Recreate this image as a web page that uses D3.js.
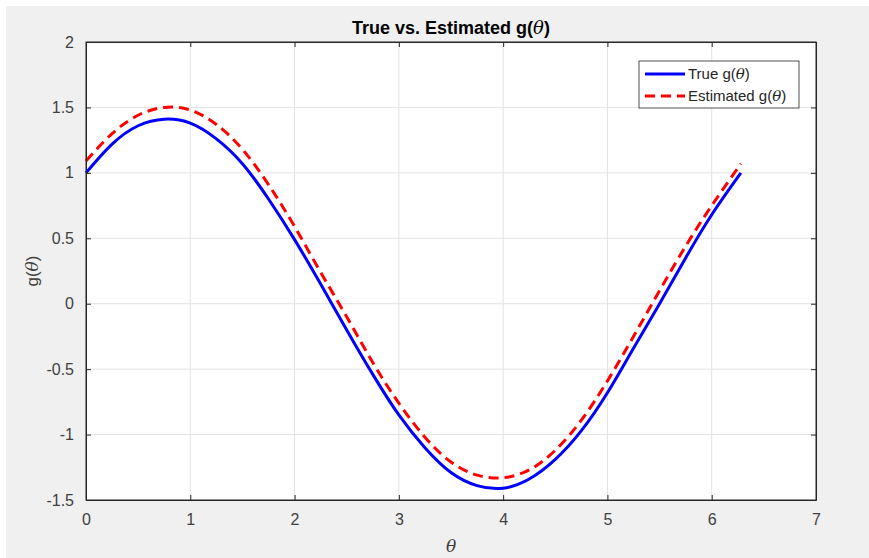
<!DOCTYPE html>
<html>
<head>
<meta charset="utf-8">
<script src="https://cdn.jsdelivr.net/npm/d3@7"></script>
<style>
  body { margin: 0; background: #fff; }
  svg { display: block; font-family: "Liberation Sans", Arial, Helvetica, sans-serif; }
</style>
</head>
<body>
<svg id="chart"></svg>
<script>
// values
const thetas = [0, 0.25, 0.5, 0.75, 1.0, 1.25, 1.5, 1.75, 2.0, 2.25, 2.5, 2.75, 3.0,
  3.25, 3.5, 3.75, 4.0, 4.25, 4.5, 4.75, 5.0, 5.25, 5.5, 5.75, 6.0, 6.28];
const trueG = [1.00, 1.22, 1.36, 1.41, 1.38, 1.26, 1.07, 0.80, 0.49, 0.15, -0.20, -0.54, -0.85,
  -1.10, -1.29, -1.39, -1.41, -1.34, -1.19, -0.97, -0.68, -0.34, 0.00, 0.35, 0.68, 1.00];
const estG = [1.09, 1.30, 1.44, 1.50, 1.48, 1.37, 1.18, 0.91, 0.59, 0.24, -0.10, -0.45, -0.76,
  -1.02, -1.21, -1.31, -1.33, -1.27, -1.12, -0.89, -0.59, -0.25, 0.10, 0.44, 0.75, 1.07];
const xTicks = [0, 1, 2, 3, 4, 5, 6, 7];
const yTicks = [-1.5, -1, -0.5, 0, 0.5, 1, 1.5, 2];

const WIDTH = 869;
const HEIGHT = 558;
const MARGIN = {top: 42, right: 53, bottom: 58, left: 86};
const AXIS = '#262626';
const LABEL = '#404040';

const width = WIDTH - MARGIN.left - MARGIN.right;
const height = HEIGHT - MARGIN.top - MARGIN.bottom;

const svg = d3.select('#chart')
  .attr('width', WIDTH)
  .attr('height', HEIGHT);

svg.append('rect')
  .attr('x', 6).attr('y', 6)
  .attr('width', WIDTH - 6).attr('height', HEIGHT - 6)
  .attr('fill', '#f0f0f0');

const x = d3.scaleLinear().domain([0, 7]).range([0, width]);
const y = d3.scaleLinear().domain([-1.5, 2]).range([height, 0]);

const chart = svg.append('g')
  .attr('transform', `translate(${MARGIN.left},${MARGIN.top})`);

chart.append('rect')
  .attr('width', width).attr('height', height)
  .attr('fill', '#fff');

// grid
chart.append('g')
  .selectAll('line')
  .data(xTicks.slice(1, -1))
  .join('line')
  .attr('x1', (d) => x(d)).attr('x2', (d) => x(d))
  .attr('y1', 0).attr('y2', height)
  .attr('stroke', '#e3e3e3');

chart.append('g')
  .selectAll('line')
  .data(yTicks.slice(1, -1))
  .join('line')
  .attr('x1', 0).attr('x2', width)
  .attr('y1', (d) => y(d)).attr('y2', (d) => y(d))
  .attr('stroke', '#e3e3e3');

// lines
const trueData = thetas.map((t, i) => [t, trueG[i]]);
const estData = thetas.map((t, i) => [t, estG[i]]);

const line = d3.line()
  .x((d) => x(d[0]))
  .y((d) => y(d[1]))
  .curve(d3.curveNatural);

chart.append('path')
  .datum(trueData)
  .attr('d', line)
  .attr('fill', 'none')
  .attr('stroke', '#0000ff')
  .attr('stroke-width', 3);

chart.append('path')
  .datum(estData)
  .attr('d', line)
  .attr('fill', 'none')
  .attr('stroke', '#ff0000')
  .attr('stroke-width', 3)
  .attr('stroke-dasharray', '10,6');

// axes (ticks inward, box on)
const fmt = (d) => String(d);
const xAxis = d3.axisBottom(x).tickValues(xTicks).tickSizeInner(-5).tickSizeOuter(0)
  .tickPadding(14).tickFormat(fmt);
const yAxis = d3.axisLeft(y).tickValues(yTicks).tickSizeInner(-5).tickSizeOuter(0)
  .tickPadding(12).tickFormat(fmt);

chart.append('g')
  .attr('transform', `translate(0,${height})`)
  .call(xAxis);
chart.append('g').call(yAxis);

chart.append('g')
  .call(d3.axisTop(x).tickValues(xTicks).tickSizeInner(-5).tickSizeOuter(0).tickFormat(''));
chart.append('g')
  .attr('transform', `translate(${width},0)`)
  .call(d3.axisRight(y).tickValues(yTicks).tickSizeInner(-5).tickSizeOuter(0).tickFormat(''));

chart.selectAll('.domain').attr('stroke', AXIS);
chart.selectAll('.tick line').attr('stroke', AXIS);
chart.selectAll('.tick text')
  .attr('fill', LABEL)
  .style('font-size', '16px')
  .style('font-family', '"Liberation Sans", Arial, sans-serif');

chart.append('rect')
  .attr('width', width).attr('height', height)
  .attr('fill', 'none')
  .attr('stroke', AXIS);

// title and labels
svg.append('text')
  .attr('x', MARGIN.left + width / 2)
  .attr('y', 34)
  .attr('text-anchor', 'middle')
  .style('font-size', '18px')
  .style('font-weight', 'bold')
  .attr('fill', '#000')
  .html('True vs. Estimated g(<tspan font-style="italic" font-family="DejaVu Serif" font-weight="normal">θ</tspan>)');

svg.append('text')
  .attr('x', MARGIN.left + width / 2)
  .attr('y', 552)
  .attr('text-anchor', 'middle')
  .style('font-size', '17px')
  .style('font-style', 'italic')
  .style('font-family', '"DejaVu Serif", serif')
  .attr('fill', LABEL)
  .text('θ');

svg.append('text')
  .attr('transform', `translate(38,${MARGIN.top + y(0.25)}) rotate(-90)`)
  .attr('text-anchor', 'middle')
  .style('font-size', '17px')
  .attr('fill', LABEL)
  .html('g(<tspan font-style="italic" font-family="DejaVu Serif">θ</tspan>)');

// legend
const legend = svg.append('g').attr('transform', 'translate(639,61)');
legend.append('rect')
  .attr('width', 160).attr('height', 47)
  .attr('fill', '#fff')
  .attr('stroke', AXIS)
  .attr('stroke-width', 0.8);

const items = [
  {label: 'True g(', color: '#0000ff', dash: null},
  {label: 'Estimated g(', color: '#ff0000', dash: '10,6'}
];
items.forEach((it, i) => {
  const cy = 13 + i * 22;
  legend.append('line')
    .attr('x1', 6).attr('x2', 46)
    .attr('y1', cy).attr('y2', cy)
    .attr('stroke', it.color)
    .attr('stroke-width', 3)
    .attr('stroke-dasharray', it.dash);
  legend.append('text')
    .attr('x', 49).attr('y', cy + 5)
    .style('font-size', '15px')
    .attr('fill', AXIS)
    .html(`${it.label}<tspan font-style="italic" font-family="DejaVu Serif">θ</tspan>)`);
});
</script>
</body>
</html>
